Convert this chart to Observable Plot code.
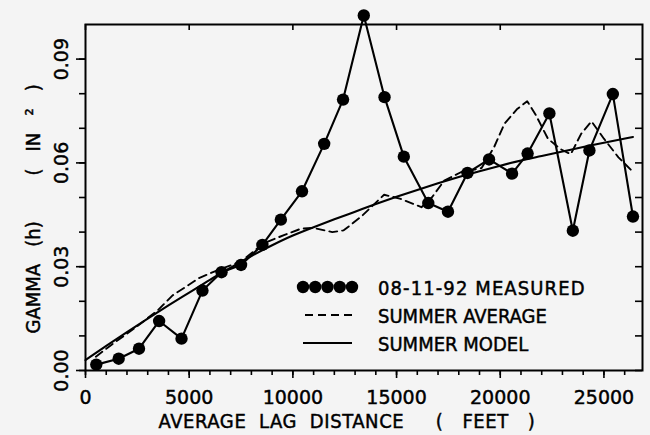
<!DOCTYPE html>
<html><head><meta charset="utf-8">
<script src="https://cdn.jsdelivr.net/npm/d3@7"></script>
<script src="https://cdn.jsdelivr.net/npm/@observablehq/plot@0.6"></script>
<style>
html,body{margin:0;padding:0;background:#f4f4f4;}
#wrap{position:relative;width:650px;height:435px;}
svg text{white-space:pre;}
</style></head><body><div id="wrap"></div>
<script>
// ---- data ----
const measuredX = [520,1600,2580,3550,4630,5640,6560,7500,8530,9420,10440,11510,12420,13420,14420,15350,16530,17480,18420,19460,20570,21320,22370,23500,24300,25430,26400];
const measuredY = [0.0017,0.0034,0.0063,0.0143,0.0092,0.0231,0.0284,0.0305,0.0363,0.0436,0.0518,0.0655,0.0783,0.1026,0.0790,0.0618,0.0484,0.0459,0.0571,0.0610,0.0569,0.0627,0.0743,0.0404,0.0636,0.0799,0.0445];

const averageX = [500,1500,2500,3500,4200,5500,6300,7500,8600,9600,10400,11000,11900,12450,13300,14400,15200,16200,16700,17300,18100,19100,19700,20200,20800,21300,21700,22300,22900,23400,23900,24400,25000,25700,26300];
const averageY = [0.0040,0.0085,0.0128,0.0175,0.0217,0.0268,0.0288,0.0315,0.0368,0.0392,0.0410,0.0412,0.0400,0.0405,0.0445,0.0508,0.0496,0.0472,0.0500,0.0549,0.0573,0.0585,0.0645,0.0713,0.0755,0.0778,0.0740,0.0670,0.0640,0.0625,0.0684,0.0720,0.0670,0.0616,0.0580];

const modelX = [0,1000,2000,3000,4000,5000,6000,7000,8000,9000,10000,11000,12000,13000,14000,15000,16000,17000,18000,19000,20000,21000,22000,23000,24000,25000,26400];
const modelY = [0.0030,0.0071,0.0111,0.0150,0.0188,0.0225,0.0262,0.0297,0.0331,0.0362,0.0390,0.0414,0.0437,0.0459,0.0481,0.0502,0.0522,0.0541,0.0559,0.0576,0.0592,0.0607,0.0620,0.0633,0.0646,0.0658,0.0675];

const xTickValues = [0,5000,10000,15000,20000,25000];
const xMinorTicks = [0,1000,2000,3000,4000,5000,6000,7000,8000,9000,10000,11000,12000,13000,14000,15000,16000,17000,18000,19000,20000,21000,22000,23000,24000,25000,26000];
const yTickValues = [0,0.03,0.06,0.09];
const yMinorTicks = [0,0.01,0.02,0.03,0.04,0.05,0.06,0.07,0.08,0.09];

const xTitle = "AVERAGE  LAG  DISTANCE     (   FEET   )";
const yTitle = "GAMMA   (h)        (   IN   ²   )";
const legendLabels = ["08-11-92 MEASURED","SUMMER AVERAGE","SUMMER MODEL"];

// ---- tables ----
const measured = measuredX.map((x,i)=>({x, y: measuredY[i]}));
const average = averageX.map((x,i)=>({x, y: averageY[i]}));
const model = modelX.map((x,i)=>({x, y: modelY[i]}));

const W=650, H=435, mL=85, mR=8, mT=24, mB=65;
const innerW = W-mL-mR, innerH = H-mT-mB;
const numFont = "'DejaVu Sans', sans-serif";
const letFont = "'DejaVu Sans Condensed', 'DejaVu Sans', sans-serif";

const chart = Plot.plot({
  width: W, height: H,
  marginLeft: mL, marginRight: mR, marginTop: mT, marginBottom: mB,
  style: {background: "transparent", fontFamily: numFont, color: "black", overflow: "visible"},
  x: {domain: [0, 26860], axis: null},
  y: {domain: [0, 0.1], axis: null},
  marks: [
    Plot.frame({stroke: "black", strokeWidth: 2}),
    // left ticks (outward)
    Plot.tickY(yMinorTicks, {y: d=>d, insetLeft: -6, insetRight: innerW, stroke: "black", strokeWidth: 1.6}),
    Plot.tickY(yTickValues, {y: d=>d, insetLeft: -9, insetRight: innerW, stroke: "black", strokeWidth: 1.6}),
    // right ticks (inward)
    Plot.tickY(yMinorTicks, {y: d=>d, insetLeft: innerW-7, stroke: "black", strokeWidth: 1.6}),
    // bottom ticks (outward)
    Plot.tickX(xMinorTicks, {x: d=>d, insetTop: innerH, insetBottom: -5, stroke: "black", strokeWidth: 1.6}),
    Plot.tickX(xTickValues, {x: d=>d, insetTop: innerH, insetBottom: -8, stroke: "black", strokeWidth: 1.6}),
    // top ticks (inward, majors)
    Plot.tickX(xTickValues, {x: d=>d, insetBottom: innerH-6, stroke: "black", strokeWidth: 1.6}),
    // tick labels
    Plot.text(xTickValues, {x: d=>d, text: d=>String(d), frameAnchor: "bottom", dy: 20, lineAnchor: "top", fontSize: 19, fontFamily: numFont, fill: "black"}),
    Plot.text(yTickValues, {y: d=>d, text: d=>d.toFixed(2), frameAnchor: "left", dx: -18, rotate: -90, textAnchor: "middle", lineAnchor: "bottom", fontSize: 19, fontFamily: numFont, fill: "black"}),
    // axis titles
    Plot.text([xTitle], {text: d=>d, frameAnchor: "bottom-left", dx: 73, dy: 43, textAnchor: "start", lineAnchor: "top", fontSize: 20, fontFamily: letFont, fill: "black"}),
    Plot.text([yTitle], {text: d=>d, frameAnchor: "bottom-left", dx: -52, dy: -37, rotate: -90, textAnchor: "start", lineAnchor: "middle", fontSize: 20, fontFamily: letFont, fill: "black"}),
    // data
    Plot.line(average, {x: "x", y: "y", stroke: "black", strokeWidth: 1.9, strokeDasharray: "8,5"}),
    Plot.line(model, {x: "x", y: "y", stroke: "black", strokeWidth: 2.1, curve: "monotone-x"}),
    Plot.line(measured, {x: "x", y: "y", stroke: "black", strokeWidth: 2.1}),
    Plot.dot(measured, {x: "x", y: "y", r: 6.2, fill: "black", stroke: "none"})
  ]
});
document.getElementById("wrap").appendChild(chart);
// heavier, plotter-like lettering
d3.select(chart).selectAll("text")
  .attr("stroke", "black").attr("stroke-width", 0.45).attr("fill", "black");
d3.select(chart).selectAll("text").filter(function(){ return /AVERAGE  LAG/.test(this.textContent); }).attr("letter-spacing", 0.6);

// ---- legend (inside plot area) ----
const leg = d3.select("#wrap").append("svg")
  .attr("width", W).attr("height", H)
  .style("position", "absolute").style("left", "0px").style("top", "0px")
  .style("overflow", "visible");
const rowsY = [287, 315, 343];
leg.selectAll("circle").data([303, 315.25, 327.5, 339.75, 352]).join("circle")
  .attr("cx", d=>d).attr("cy", rowsY[0]).attr("r", 6.2).attr("fill", "black");
leg.append("line").attr("x1", 305).attr("x2", 352).attr("y1", rowsY[1]).attr("y2", rowsY[1])
  .attr("stroke", "black").attr("stroke-width", 1.9).attr("stroke-dasharray", "8,5");
leg.append("line").attr("x1", 303).attr("x2", 352).attr("y1", rowsY[2]).attr("y2", rowsY[2])
  .attr("stroke", "black").attr("stroke-width", 2.1);
leg.selectAll("text").data(legendLabels).join("text")
  .attr("x", 378).attr("y", (d,i)=>rowsY[i] + 7.5)
  .attr("font-family", letFont).attr("font-size", 20).attr("fill", "black")
  .attr("stroke", "black").attr("stroke-width", 0.45)
  .attr("letter-spacing", (d,i)=> i === 0 ? 1.1 : 0)
  .text(d=>d);
</script></body></html>
